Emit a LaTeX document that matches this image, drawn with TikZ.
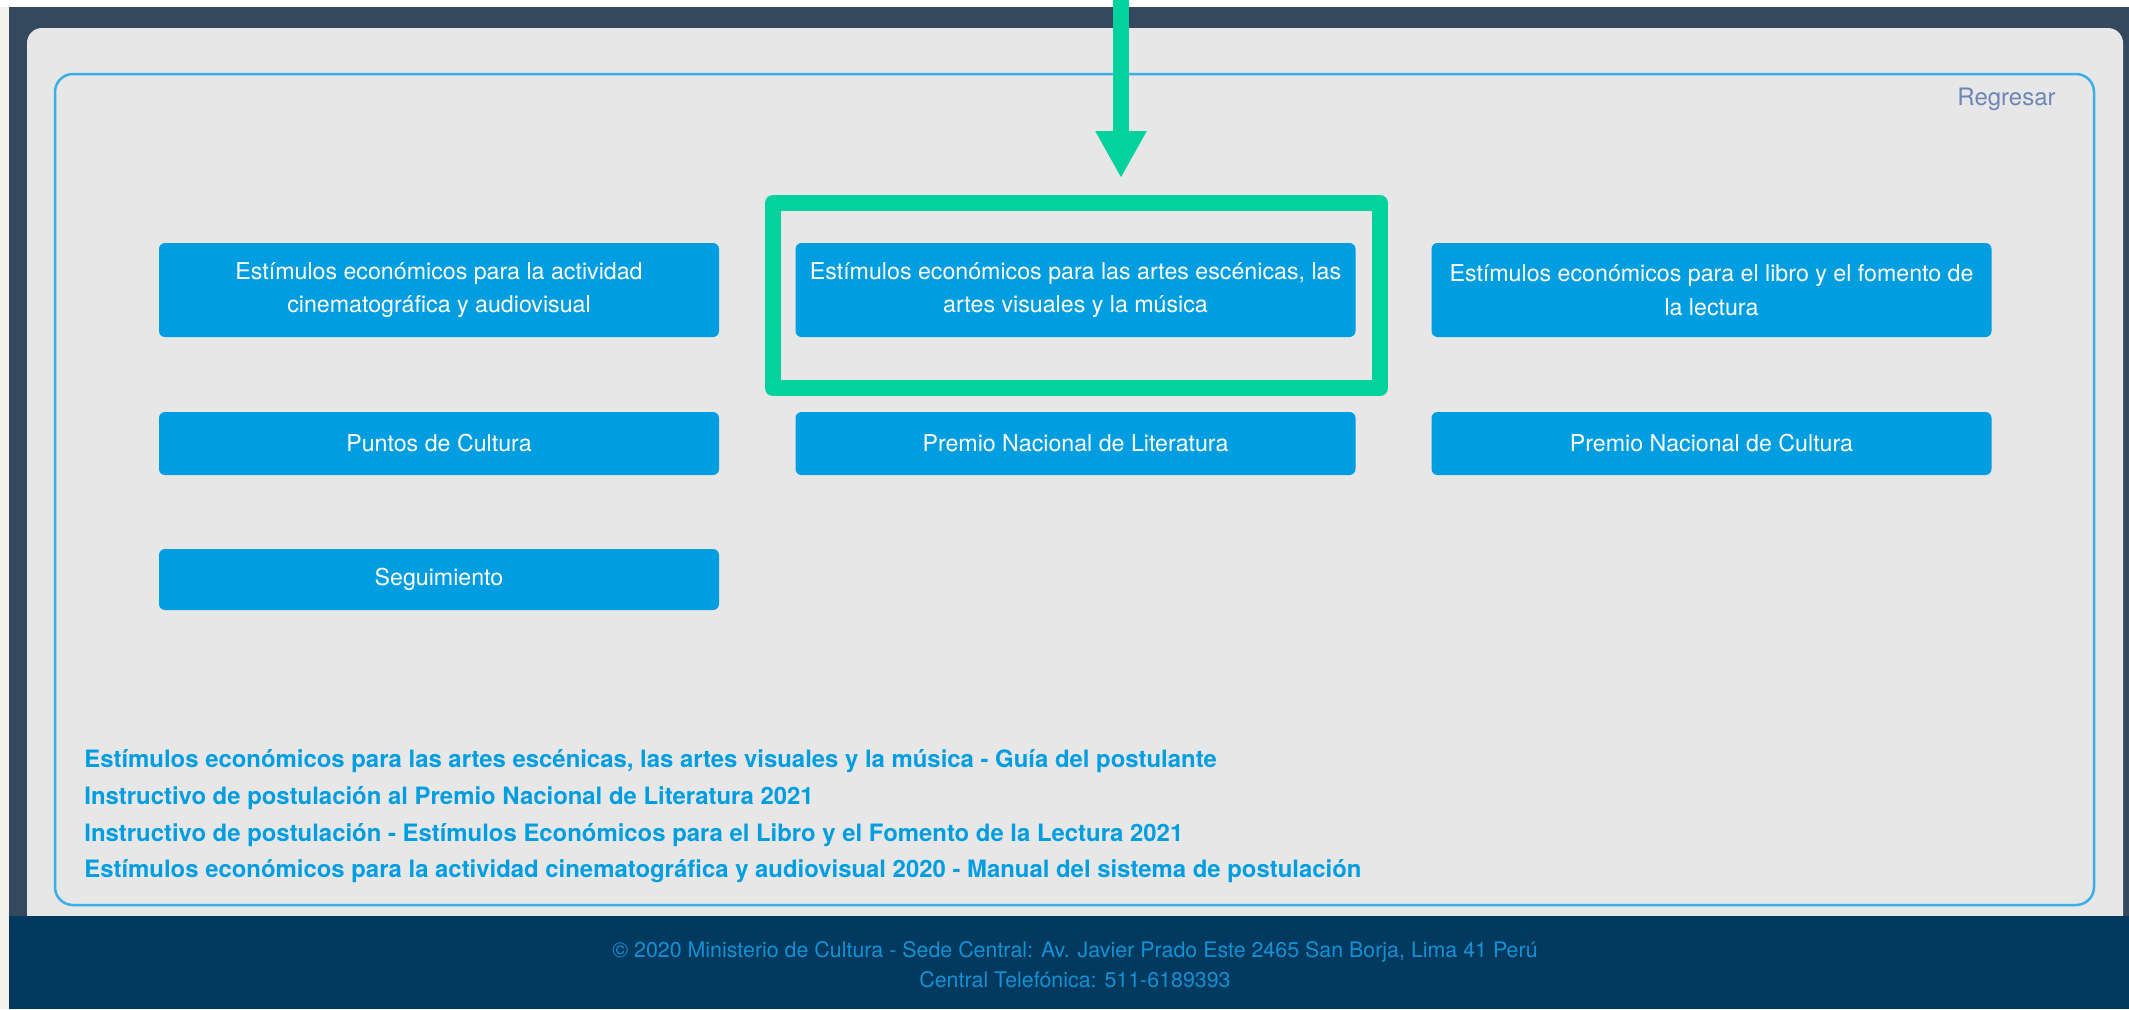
\documentclass[tikz,border=0pt]{standalone}
\usepackage{fontspec}
\setmainfont{TeX Gyre Heros}
\usetikzlibrary{arrows.meta}
\definecolor{slate}{HTML}{34495E}
\definecolor{panel}{HTML}{E7E7E7}
\definecolor{navy}{HTML}{013A5E}
\definecolor{cream}{HTML}{F3F1EC}
\definecolor{skyline}{HTML}{3AAEE6}
\definecolor{btnblue}{HTML}{009EE0}
\definecolor{hlgreen}{HTML}{03D29C}
\definecolor{backlink}{HTML}{6E86B6}
\definecolor{footblue}{HTML}{1590D4}

\begin{document}
\begin{tikzpicture}[x=0.5pt, y=-0.5pt,
  btn/.style={fill=btnblue, rounded corners=3pt, text=white, align=center,
    font=\fontsize{11.6}{16.75}\selectfont, minimum width=280pt, inner sep=0pt},
  link/.style={anchor=base west, text=btnblue, inner sep=0pt,
    font=\fontsize{11.95}{14}\selectfont\bfseries},
  foot/.style={anchor=base, text=footblue, inner sep=0pt,
    font=\fontsize{10.7}{13}\selectfont}]

\useasboundingbox (0,0) rectangle (2129,1009);
\fill[white] (0,0) rectangle (2129,1009);
\fill[cream] (0,7) rectangle (9,1009);
\fill[slate] (9,7) rectangle (2129,1009);
\fill[panel, rounded corners=7.5pt] (27,28) rectangle (2123,950);
\fill[navy] (9,916) rectangle (2129,1009);
\draw[skyline, line width=1.25pt, rounded corners=9pt] (55,74) rectangle (2094,905);

\node[anchor=base east, text=backlink, inner sep=0pt, font=\fontsize{12}{14}\selectfont] (back) at (2056,105) {Regresar};

\node[btn, minimum height=47pt] (cine) at (439,290) {Estímulos económicos para la actividad\\cinematográfica y audiovisual};
\node[btn, minimum height=47pt] (artes) at (1075.5,290) {Estímulos económicos para las artes escénicas, las\\artes visuales y la música};
\node[btn, minimum height=47pt] (libro) at (1711.5,290) {Estímulos económicos para el libro y el fomento de\\la lectura};
\node[btn, minimum height=31.5pt] (puntos) at (439,443.5) {Puntos de Cultura};
\node[btn, minimum height=31.5pt] (literatura) at (1075.5,443.5) {Premio Nacional de Literatura};
\node[btn, minimum height=31.5pt] (cultura) at (1711.5,443.5) {Premio Nacional de Cultura};
\node[btn, minimum height=30.5pt] (seguim) at (439,579.5) {Seguimiento};

\node[draw=hlgreen, line width=8pt, line join=round, inner sep=0pt,
  minimum width=303.5pt, minimum height=92.5pt] (hl) at (1076.5,295.5) {};
\coordinate (atop) at (1121,0);
\draw[hlgreen, line width=8pt, -{Triangle[width=24pt,length=23.5pt]}] (atop) -- ([yshift=8.5pt]atop |- hl.north);

\node[link] (guia) at (84,767) {Estímulos económicos para las artes escénicas, las artes visuales y la música - Guía del postulante};
\node[link] (instlit) at (84,804) {Instructivo de postulación al Premio Nacional de Literatura 2021};
\node[link] (instlib) at (84,841) {Instructivo de postulación - Estímulos Económicos para el Libro y el Fomento de la Lectura 2021};
\node[link] (manual) at (84,877) {Estímulos económicos para la actividad cinematográfica y audiovisual 2020 - Manual del sistema de postulación};

\node[foot] (sede) at (1075,957) {© 2020 Ministerio de Cultura - Sede Central: Av. Javier Prado Este 2465 San Borja, Lima 41 Perú};
\node[foot] (fono) at (1075,987) {Central Telefónica: 511-6189393};

\end{tikzpicture}
\end{document}
